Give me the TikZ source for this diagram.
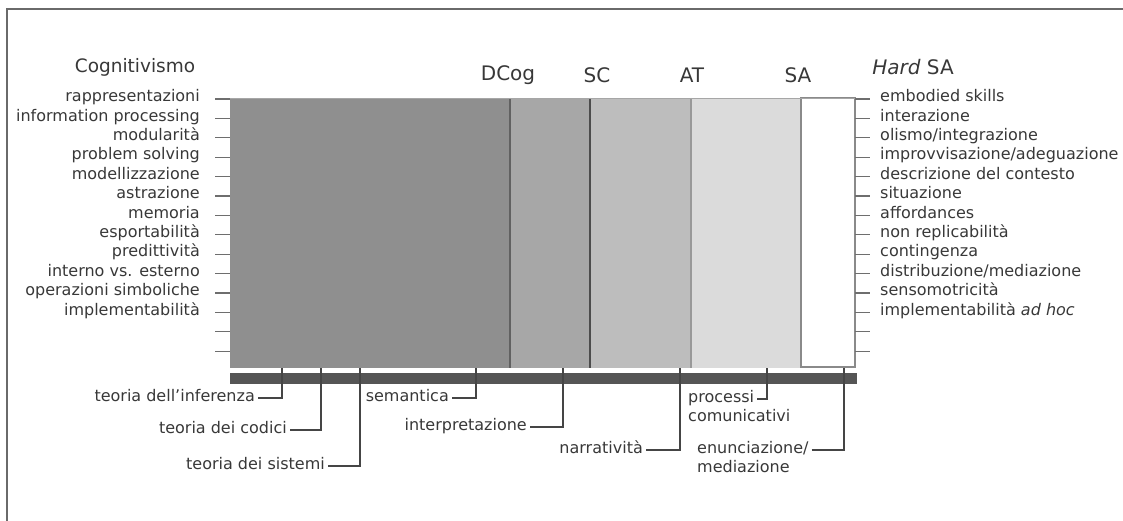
\documentclass[tikz,border=0pt]{standalone}
\usepackage{fontspec}
\setmainfont{DejaVu Sans}
\usetikzlibrary{positioning}
\definecolor{txt}{HTML}{383838}
\definecolor{framecol}{HTML}{6A6A6A}
\definecolor{cogfill}{HTML}{8F8F8F}
\definecolor{dcogfill}{HTML}{A7A7A7}
\definecolor{scfill}{HTML}{BDBDBD}
\definecolor{atfill}{HTML}{DBDBDB}
\definecolor{sabord}{HTML}{8A8A8A}
\definecolor{tickcol}{HTML}{6E6E6E}
\definecolor{barcol}{HTML}{555555}
\definecolor{leadcol}{HTML}{454545}

\begin{document}
\begin{tikzpicture}[
        x=1pt, y=-1pt,
        item/.style={font=\fontsize{16}{18}\selectfont, text=txt, inner xsep=3pt,
                     inner ysep=2pt, text height=11pt, text depth=3.5pt},
        head/.style={font=\fontsize{20}{24}\selectfont, text=txt, inner sep=0pt},
        tick/.style={draw=tickcol, line width=1.2pt},
        lead/.style={draw=leadcol, line width=1.2pt}
      ]
        \useasboundingbox (0,0) rectangle (1123,521);
        \draw[framecol, line width=1.5pt] (7,521) -- (7,9) -- (1123,9);

        % bands
        \fill[cogfill] (230,98) rectangle (510,368);
        \fill[dcogfill] (510,98) rectangle (590,368);
        \fill[scfill] (590,98) rectangle (691,368);
        \fill[atfill] (691,98) rectangle (801,368);
        \draw[sabord, fill=white, line width=1.2pt] (801,98) rectangle (855,367);
        \draw[draw=black!62, line width=1.2pt] (510,98) -- (510,368);
        \draw[draw=black!70, line width=1.2pt] (590,98) -- (590,368);
        \draw[draw=black!40, line width=1.2pt] (691,98) -- (691,368);
        \draw[draw=black!35, line width=0.8pt] (230,98) -- (855,98);

        % ticks
        \foreach \k in {0,...,13} {
          \draw[tick] (215,{99+19.4*\k}) -- (230,{99+19.4*\k});
          \draw[tick] (855,{99+19.4*\k}) -- (870,{99+19.4*\k});
        }

        % headings
        \node[head, font=\fontsize{18.5}{22}\selectfont] (cog) at (135,67) {Cognitivismo};
        \node[head] (dcog) at (508,75) {DCog};
        \node[head] (sc) at (597,75) {SC};
        \node[head] (at) at (692,75) {AT};
        \node[head] (sa) at (798,75) {SA};
        \node[head] (hsa) at (913,67) {\textit{Hard} SA};

        % left list
        \foreach \t [count=\i] in {rappresentazioni, information processing, modularità,
            problem solving, modellizzazione, astrazione, memoria, esportabilità,
            predittività, interno vs. esterno, operazioni simboliche, implementabilità}
          \node[item, anchor=east] (l\i) at (203,{98+19.4*(\i-1)}) {\t};

        % right list
        \foreach \t [count=\i] in {embodied skills, interazione, olismo/integrazione,
            improvvisazione/adeguazione, descrizione del contesto, situazione,
            affordances, non replicabilità, contingenza, distribuzione/mediazione,
            sensomotricità, {implementabilità \textit{ad hoc}}}
          \node[item, anchor=west] (r\i) at (877,{98+19.4*(\i-1)}) {\t};

        % bar
        \fill[barcol] (230,373) rectangle (857,384);

        % lower labels
        \node[item, anchor=east] (inf) at (258,398) {teoria dell’inferenza};
        \node[item, anchor=east] (cod) at (290,430) {teoria dei codici};
        \node[item, anchor=east] (sis) at (328,466) {teoria dei sistemi};
        \node[item, anchor=east] (sem) at (452,398) {semantica};
        \node[item, anchor=east] (int) at (530,427) {interpretazione};
        \node[item, anchor=east] (nar) at (646,450) {narratività};
        \node[item, anchor=west] (proc) at (685,399) {processi};
        \node[item, below=0pt of proc.south west, anchor=north west] (comu) {comunicativi};
        \node[item, anchor=west] (enun) at (694,450) {enunciazione/};
        \node[item, below=0pt of enun.south west, anchor=north west] (med) {mediazione};

        \coordinate (inf top) at (282,368);
        \coordinate (cod top) at (321,368);
        \coordinate (sis top) at (360,368);
        \coordinate (sem top) at (476,368);
        \coordinate (int top) at (563,368);
        \coordinate (nar top) at (680,368);
        \coordinate (proc top) at (767,368);
        \coordinate (enun top) at (844,368);

        \draw[lead] (inf.east) -| (inf top);
        \draw[lead] (cod.east) -| (cod top);
        \draw[lead] (sis.east) -| (sis top);
        \draw[lead] (sem.east) -| (sem top);
        \draw[lead] (int.east) -| (int top);
        \draw[lead] (nar.east) -| (nar top);
        \draw[lead] (proc.east) -| (proc top);
        \draw[lead] (enun.east) -| (enun top);
      \end{tikzpicture}
\end{document}
